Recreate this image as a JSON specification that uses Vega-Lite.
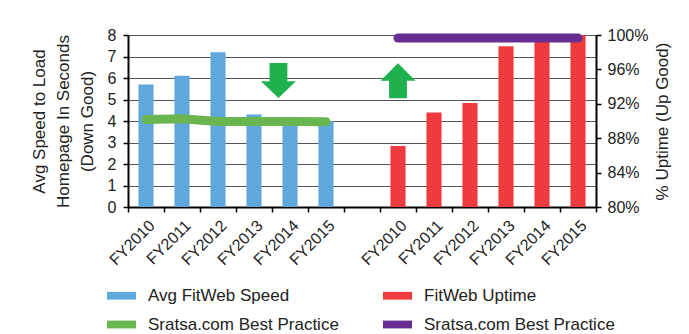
{
  "$schema": "https://vega.github.io/schema/vega-lite/v6.json",
  "width": 468,
  "height": 172,
  "autosize": {"type": "none"},
  "padding": {"left": 128, "top": 35, "right": 93, "bottom": 127},
  "config": {
    "font": "Liberation Sans",
    "view": {"stroke": null},
    "axis": {
      "labelFont": "Liberation Sans",
      "titleFont": "Liberation Sans",
      "labelColor": "#222",
      "titleColor": "#222",
      "titleFontWeight": "normal",
      "domainColor": "#000",
      "domainWidth": 2,
      "tickColor": "#000",
      "tickWidth": 1.5,
      "tickSize": 5
    },
    "legend": {
      "labelFont": "Liberation Sans",
      "labelColor": "#222"
    }
  },
  "data": {
    "values": [
      {"cat": "a2010", "series": "speed", "value": 5.7},
      {"cat": "a2011", "series": "speed", "value": 6.1},
      {"cat": "a2012", "series": "speed", "value": 7.2},
      {"cat": "a2013", "series": "speed", "value": 4.3},
      {"cat": "a2014", "series": "speed", "value": 3.95},
      {"cat": "a2015", "series": "speed", "value": 4.0},
      {"cat": "a2010", "series": "speedBP", "value": 4.07},
      {"cat": "a2011", "series": "speedBP", "value": 4.1},
      {"cat": "a2012", "series": "speedBP", "value": 3.98},
      {"cat": "a2013", "series": "speedBP", "value": 3.98},
      {"cat": "a2014", "series": "speedBP", "value": 3.98},
      {"cat": "a2015", "series": "speedBP", "value": 3.97},
      {"cat": "b2010", "series": "uptime", "value": 0.871},
      {"cat": "b2011", "series": "uptime", "value": 0.91},
      {"cat": "b2012", "series": "uptime", "value": 0.921},
      {"cat": "b2013", "series": "uptime", "value": 0.987},
      {"cat": "b2014", "series": "uptime", "value": 0.998},
      {"cat": "b2015", "series": "uptime", "value": 1.0},
      {"cat": "b2010", "series": "uptimeBP", "value": 0.9965},
      {"cat": "b2011", "series": "uptimeBP", "value": 0.9965},
      {"cat": "b2012", "series": "uptimeBP", "value": 0.9965},
      {"cat": "b2013", "series": "uptimeBP", "value": 0.9965},
      {"cat": "b2014", "series": "uptimeBP", "value": 0.9965},
      {"cat": "b2015", "series": "uptimeBP", "value": 0.9965},
      {"cat": "a2014", "series": "downArrow", "value": 5.88},
      {"cat": "b2010", "series": "upArrow", "value": 0.9467}
    ]
  },
  "encoding": {
    "x": {
      "field": "cat",
      "type": "nominal",
      "scale": {
        "domain": ["a2010", "a2011", "a2012", "a2013", "a2014", "a2015", "gap", "b2010", "b2011", "b2012", "b2013", "b2014", "b2015"],
        "paddingInner": 0,
        "paddingOuter": 0
      },
      "axis": {
        "title": null,
        "tickBand": "extent",
        "labelAngle": -45,
        "labelFontSize": 16,
        "labelPadding": 5,
        "labelExpr": "isString(datum.value) && datum.value != 'gap' ? 'FY' + substring(datum.value, 1) : ''"
      }
    }
  },
  "layer": [
    {
      "encoding": {
        "y": {
          "field": "value",
          "type": "quantitative",
          "scale": {"domain": [0, 8], "nice": false},
          "axis": {
            "orient": "left",
            "values": [0, 1, 2, 3, 4, 5, 6, 7, 8],
            "grid": true,
            "gridColor": "#555",
            "gridWidth": 1,
            "labelFontSize": 16,
            "labelPadding": 7,
            "title": ["Avg Speed to Load", "Homepage In Seconds", "(Down Good)"],
            "titleFontSize": 17,
            "titleLineHeight": 24,
            "titlePadding": 11
          }
        }
      },
      "layer": [
        {
          "transform": [{"filter": "datum.series == 'speed'"}],
          "mark": {"type": "bar", "width": {"band": 0.42}},
          "encoding": {
            "color": {
              "field": "series",
              "type": "nominal",
              "scale": {
                "domain": ["speed", "uptime", "speedBP", "uptimeBP"],
                "range": ["#5fa8dc", "#ef3b3e", "#69b54f", "#662e91"]
              },
              "legend": {
                "orient": "none",
                "legendX": -21,
                "legendY": 246,
                "columns": 2,
                "direction": "horizontal",
                "title": null,
                "padding": 0,
                "symbolType": "M -1 -0.27 L 1 -0.27 L 1 0.27 L -1 0.27 Z",
                "symbolSize": 841,
                "symbolStrokeWidth": 0,
                "labelFontSize": 17,
                "labelOffset": 12,
                "labelLimit": 400,
                "columnPadding": 44,
                "rowPadding": 6,
                "labelExpr": "datum.value == 'speed' ? 'Avg FitWeb Speed' : datum.value == 'uptime' ? 'FitWeb Uptime' : 'Sratsa.com Best Practice'"
              }
            }
          }
        },
        {
          "transform": [{"filter": "datum.series == 'speedBP'"}],
          "mark": {"type": "line", "color": "#69b54f", "strokeWidth": 9, "strokeCap": "round", "strokeJoin": "round"}
        },
        {
          "transform": [{"filter": "datum.series == 'downArrow'"}],
          "mark": {
            "type": "point",
            "filled": true,
            "opacity": 1,
            "color": "#20b14f",
            "size": 1225,
            "shape": "M -1.17 -1 L -0.15 -1 L -0.15 0.04 L 0.34 0.04 L -0.66 1 L -1.66 0.04 L -1.17 0.04 Z"
          }
        }
      ]
    },
    {
      "encoding": {
        "y": {
          "field": "value",
          "type": "quantitative",
          "scale": {"domain": [0.8, 1.0], "nice": false, "zero": false},
          "axis": {
            "orient": "right",
            "values": [0.8, 0.84, 0.88, 0.92, 0.96, 1.0],
            "format": ".0%",
            "grid": false,
            "labelFontSize": 16,
            "labelPadding": 6,
            "title": "% Uptime (Up Good)",
            "titleFontSize": 17,
            "titleAngle": -90,
            "titleBaseline": "top",
            "titlePadding": 7
          }
        }
      },
      "layer": [
        {
          "transform": [{"filter": "datum.series == 'uptime'"}],
          "mark": {"type": "bar", "width": {"band": 0.42}},
          "encoding": {
            "color": {"field": "series", "type": "nominal"},
            "y2": {"datum": 0.8}
          }
        },
        {
          "transform": [{"filter": "datum.series == 'uptimeBP'"}],
          "mark": {"type": "line", "color": "#662e91", "strokeWidth": 9, "strokeCap": "round", "strokeJoin": "round"}
        },
        {
          "transform": [{"filter": "datum.series == 'upArrow'"}],
          "mark": {
            "type": "point",
            "filled": true,
            "opacity": 1,
            "color": "#20b14f",
            "size": 1225,
            "shape": "M 0 -1 L 1 0 L 0.51 0 L 0.51 1 L -0.51 1 L -0.51 0 L -1 0 Z"
          }
        }
      ]
    }
  ],
  "resolve": {"scale": {"y": "independent"}}
}
